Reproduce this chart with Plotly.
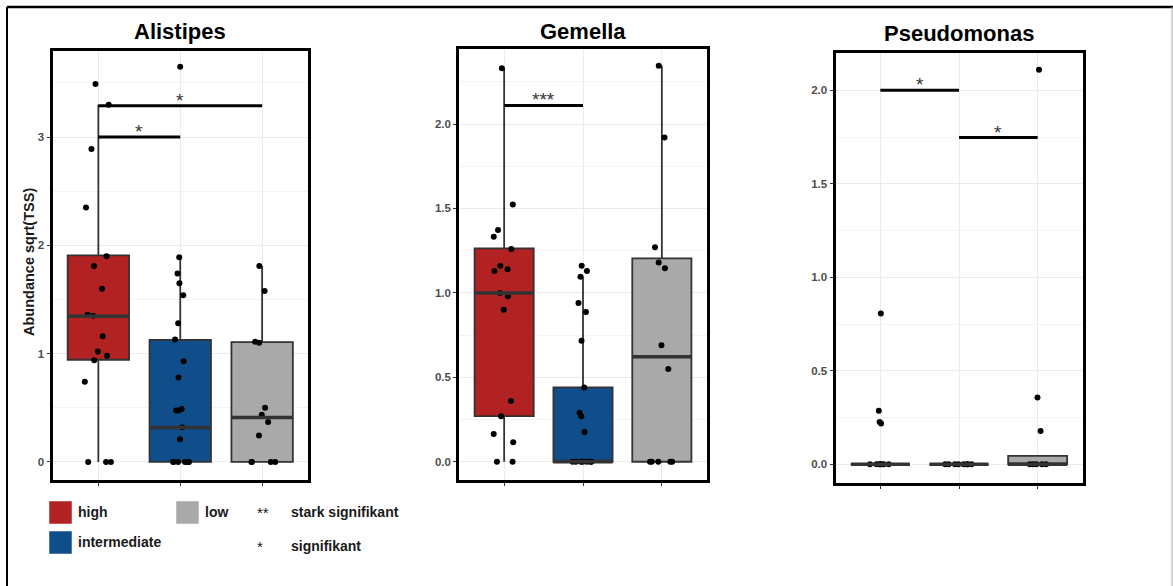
import plotly.graph_objects as go

W, H = 1173, 586
FONT = "Liberation Sans, Arial, sans-serif"

GROUPS = ["high", "intermediate", "low"]
GROUP_COLORS = ["#B22222", "#104E8B", "#A9A9A9"]

# ---- Alistipes: per-sample abundance, sqrt(TSS)
ALISTIPES_HIGH = [3.49, 3.30, 2.89, 2.35, 1.90, 1.81, 1.60, 1.36, 1.35, 1.16,
                  1.02, 0.98, 0.94, 0.74, 0.0, 0.0, 0.0]
ALISTIPES_INTERMEDIATE = [3.65, 1.89, 1.74, 1.65, 1.54, 1.28, 1.13, 0.93, 0.78,
                          0.49, 0.475, 0.475, 0.32, 0.21, 0.0, 0.0, 0.0, 0.0,
                          0.0, 0.0]
ALISTIPES_LOW = [1.81, 1.58, 1.11, 1.10, 0.50, 0.435, 0.37, 0.245, 0.0, 0.0,
                 0.0, 0.0]
ALISTIPES_Q1 = [0.944, 0.0, 0.0]
ALISTIPES_MEDIAN = [1.345, 0.318, 0.41]
ALISTIPES_Q3 = [1.907, 1.127, 1.107]
ALISTIPES_LOWER = [0.0, 0.0, 0.0]
ALISTIPES_UPPER = [3.30, 1.886, 1.81]
ALISTIPES_SIG_FROM = [0, 0]
ALISTIPES_SIG_TO = [1, 2]
ALISTIPES_SIG_Y = [3.0, 3.29]
ALISTIPES_SIG_LABEL = ["*", "*"]

# ---- Gemella
GEMELLA_HIGH = [2.33, 1.524, 1.372, 1.333, 1.26, 1.16, 1.14, 1.13, 1.0, 0.98,
                0.90, 0.36, 0.27, 0.164, 0.115, 0.0, 0.0]
GEMELLA_INTERMEDIATE = [1.16, 1.13, 1.096, 0.94, 0.887, 0.717, 0.44, 0.29,
                        0.27, 0.176, 0.0, 0.0, 0.0, 0.0, 0.0, 0.0, 0.0]
GEMELLA_LOW = [2.345, 1.92, 1.27, 1.18, 1.146, 0.69, 0.55, 0.0, 0.0, 0.0, 0.0,
               0.0]
GEMELLA_Q1 = [0.27, 0.0, 0.0]
GEMELLA_MEDIAN = [1.0, 0.0, 0.622]
GEMELLA_Q3 = [1.264, 0.44, 1.204]
GEMELLA_LOWER = [0.0, 0.0, 0.0]
GEMELLA_UPPER = [2.33, 1.096, 2.345]
GEMELLA_SIG_FROM = [0]
GEMELLA_SIG_TO = [1]
GEMELLA_SIG_Y = [2.11]
GEMELLA_SIG_LABEL = ["***"]

# ---- Pseudomonas
PSEUDOMONAS_HIGH = [0.807, 0.287, 0.226, 0.219, 0.0, 0.0, 0.0, 0.0, 0.0, 0.0,
                    0.0]
PSEUDOMONAS_INTERMEDIATE = [0.0, 0.0, 0.0, 0.0, 0.0, 0.0, 0.0, 0.0]
PSEUDOMONAS_LOW = [2.11, 0.358, 0.178, 0.0, 0.0, 0.0, 0.0, 0.0]
PSEUDOMONAS_Q1 = [0.0, 0.0, 0.0]
PSEUDOMONAS_MEDIAN = [0.0, 0.0, 0.0]
PSEUDOMONAS_Q3 = [0.0, 0.0, 0.045]
PSEUDOMONAS_LOWER = [0.0, 0.0, 0.0]
PSEUDOMONAS_UPPER = [0.0, 0.0, 0.045]
PSEUDOMONAS_SIG_FROM = [0, 1]
PSEUDOMONAS_SIG_TO = [1, 2]
PSEUDOMONAS_SIG_Y = [2.0, 1.747]
PSEUDOMONAS_SIG_LABEL = ["*", "*"]

BOX_WIDTH = 0.75

# pixel frames of the three panels (inner edges) and their value ranges
PANELS = [
    dict(title="Alistipes",
         samples=[ALISTIPES_HIGH, ALISTIPES_INTERMEDIATE, ALISTIPES_LOW],
         q1=ALISTIPES_Q1, med=ALISTIPES_MEDIAN, q3=ALISTIPES_Q3,
         lo=ALISTIPES_LOWER, hi=ALISTIPES_UPPER,
         sig=(ALISTIPES_SIG_FROM, ALISTIPES_SIG_TO, ALISTIPES_SIG_Y,
              ALISTIPES_SIG_LABEL),
         px=(52.5, 308.0, 50.5, 479.5), xr=[-0.56, 2.56], yr=[-0.162, 3.80],
         dtick=1.0, fmt="d", title_y=31.5),
    dict(title="Gemella",
         samples=[GEMELLA_HIGH, GEMELLA_INTERMEDIATE, GEMELLA_LOW],
         q1=GEMELLA_Q1, med=GEMELLA_MEDIAN, q3=GEMELLA_Q3,
         lo=GEMELLA_LOWER, hi=GEMELLA_UPPER,
         sig=(GEMELLA_SIG_FROM, GEMELLA_SIG_TO, GEMELLA_SIG_Y,
              GEMELLA_SIG_LABEL),
         px=(459.2, 706.8, 49.2, 479.5), xr=[-0.57, 2.57], yr=[-0.105, 2.443],
         dtick=0.5, fmt=".1f", title_y=31.5),
    dict(title="Pseudomonas",
         samples=[PSEUDOMONAS_HIGH, PSEUDOMONAS_INTERMEDIATE, PSEUDOMONAS_LOW],
         q1=PSEUDOMONAS_Q1, med=PSEUDOMONAS_MEDIAN, q3=PSEUDOMONAS_Q3,
         lo=PSEUDOMONAS_LOWER, hi=PSEUDOMONAS_UPPER,
         sig=(PSEUDOMONAS_SIG_FROM, PSEUDOMONAS_SIG_TO, PSEUDOMONAS_SIG_Y,
              PSEUDOMONAS_SIG_LABEL),
         px=(835.5, 1082.5, 52.5, 482.5), xr=[-0.57, 2.57], yr=[-0.097, 2.202],
         dtick=0.5, fmt=".1f", title_y=33.5),
]


def fx(p):
    return p / W


def fy(p):
    return 1 - p / H


fig = go.Figure()
annotations = []
layout = {}

for k, panel in enumerate(PANELS):
    n = "" if k == 0 else str(k + 1)
    xa, ya = "x" + n, "y" + n
    left, right, top, bottom = panel["px"]

    # boxes from the summary statistics
    for g in range(3):
        fig.add_trace(go.Box(
            x=[g], q1=[panel["q1"][g]], median=[panel["med"][g]],
            q3=[panel["q3"][g]], lowerfence=[panel["lo"][g]],
            upperfence=[panel["hi"][g]], width=BOX_WIDTH,
            fillcolor=GROUP_COLORS[g], line=dict(color="#333333", width=1.8),
            whiskerwidth=0, boxpoints=False, xaxis=xa, yaxis=ya,
            showlegend=False, hoverinfo="skip"))
        # thick median bar
        fig.add_trace(go.Scatter(
            x=[g - BOX_WIDTH / 2, g + BOX_WIDTH / 2],
            y=[panel["med"][g], panel["med"][g]], mode="lines",
            line=dict(color="#333333", width=3.5), xaxis=xa, yaxis=ya,
            showlegend=False, hoverinfo="skip"))

    # jittered sample points
    for g in range(3):
        fig.add_trace(go.Box(
            y=panel["samples"][g], x0=g, width=BOX_WIDTH, boxpoints="all",
            jitter=0.55, pointpos=0, fillcolor="rgba(0,0,0,0)",
            line=dict(color="rgba(0,0,0,0)", width=0), whiskerwidth=0,
            marker=dict(color="black", size=6), xaxis=xa, yaxis=ya,
            showlegend=False, hoverinfo="skip"))

    # significance brackets
    s_from, s_to, s_y, s_lab = panel["sig"]
    for a, b, yv, lab in zip(s_from, s_to, s_y, s_lab):
        fig.add_trace(go.Scatter(
            x=[a, b], y=[yv, yv], mode="lines",
            line=dict(color="black", width=3), xaxis=xa, yaxis=ya,
            showlegend=False, hoverinfo="skip"))
        annotations.append(dict(
            x=(a + b) / 2, y=yv, xref=xa, yref=ya, text=lab, showarrow=False,
            yanchor="bottom", yshift=-7,
            font=dict(family=FONT, size=19, color="#333333")))

    layout["xaxis" + n] = dict(
        domain=[fx(left), fx(right)], range=panel["xr"], anchor=ya,
        tickvals=[0, 1, 2], showticklabels=False, ticks="outside", ticklen=3,
        tickcolor="#333333", tickwidth=1, showgrid=True, gridcolor="#ebebeb",
        gridwidth=1, zeroline=False, showline=True, mirror=True,
        linecolor="black", linewidth=3, fixedrange=True)
    layout["yaxis" + n] = dict(
        domain=[fy(bottom), fy(top)], range=panel["yr"], anchor=xa,
        dtick=panel["dtick"], tick0=0, tickformat=panel["fmt"],
        ticks="outside", ticklen=3, tickcolor="#333333", tickwidth=1,
        tickfont=dict(family=FONT, size=11.5, color="#4d4d4d", weight="bold"),
        showgrid=True, gridcolor="#ebebeb", gridwidth=1, zeroline=False,
        minor=dict(dtick=panel["dtick"] / 2, showgrid=True,
                   gridcolor="#f4f4f4", gridwidth=1),
        showline=True, mirror=True, linecolor="black", linewidth=3,
        fixedrange=True)

    annotations.append(dict(
        x=fx((left + right) / 2), y=fy(panel["title_y"]), xref="paper",
        yref="paper", text="<b>%s</b>" % panel["title"], showarrow=False,
        xanchor="center", yanchor="middle",
        font=dict(family=FONT, size=22, color="black")))

# y-axis title of the first panel
annotations.append(dict(
    x=fx(29), y=fy(262), xref="paper", yref="paper",
    text="<b>Abundance sqrt(TSS)</b>", textangle=-90, showarrow=False,
    xanchor="center", yanchor="middle",
    font=dict(family=FONT, size=14.5, color="#1a1a1a")))

# group key and significance key below the panels
shapes = []
KEY_BOXES = [(49, 501), (49, 531), (176, 501)]
KEY_TEXT_X = [76, 76, 203]
for g in range(3):
    x0, y0 = KEY_BOXES[g]
    shapes.append(dict(type="rect", xref="paper", yref="paper",
                       x0=fx(x0), x1=fx(x0 + 23), y0=fy(y0 + 23), y1=fy(y0),
                       fillcolor=GROUP_COLORS[g],
                       line=dict(color="rgba(255,255,255,0.5)", width=1)))
    annotations.append(dict(
        x=fx(KEY_TEXT_X[g]), y=fy(y0 + 11), xref="paper", yref="paper",
        text="<b>%s</b>" % GROUPS[g], showarrow=False, xanchor="left",
        yanchor="middle", font=dict(family=FONT, size=14, color="#1a1a1a")))

SIG_KEY_SYMBOLS = ["**", "*"]
SIG_KEY_TEXT = ["stark signifikant", "signifikant"]
SIG_KEY_Y = [512, 546]
for sym, txt, yv in zip(SIG_KEY_SYMBOLS, SIG_KEY_TEXT, SIG_KEY_Y):
    annotations.append(dict(
        x=fx(255), y=fy(yv), xref="paper", yref="paper", text=sym,
        showarrow=False, xanchor="left", yanchor="middle",
        font=dict(family=FONT, size=15, color="#1a1a1a")))
    annotations.append(dict(
        x=fx(289), y=fy(yv), xref="paper", yref="paper",
        text="<b>%s</b>" % txt, showarrow=False, xanchor="left",
        yanchor="middle", font=dict(family=FONT, size=14, color="#1a1a1a")))

# outer frame
shapes.append(dict(type="line", xref="paper", yref="paper",
                   x0=fx(7), x1=1, y0=fy(7), y1=fy(7),
                   line=dict(color="black", width=2.5)))
shapes.append(dict(type="line", xref="paper", yref="paper",
                   x0=fx(7), x1=fx(7), y0=fy(7), y1=0,
                   line=dict(color="black", width=2)))
shapes.append(dict(type="line", xref="paper", yref="paper",
                   x0=fx(1172), x1=fx(1172), y0=fy(7), y1=0,
                   line=dict(color="#aaaaaa", width=1)))

fig.update_layout(
    width=W, height=H, margin=dict(l=0, r=0, t=0, b=0),
    paper_bgcolor="white", plot_bgcolor="white", boxmode="overlay",
    showlegend=False, annotations=annotations, shapes=shapes,
    font=dict(family=FONT), **layout)

fig.write_html("out.html", config={"displayModeBar": False})
